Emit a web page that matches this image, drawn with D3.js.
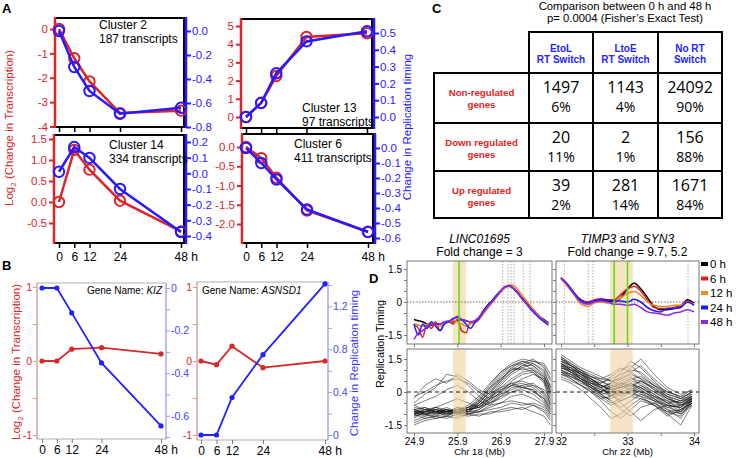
<!DOCTYPE html>
<html><head><meta charset="utf-8">
<script src="https://cdn.jsdelivr.net/npm/d3@7/dist/d3.min.js"></script>
<style>
html,body{margin:0;padding:0;background:#fff;}
svg{display:block;font-family:"Liberation Sans",Arial,Helvetica,sans-serif;}
</style></head><body>
<svg id="fig" width="738" height="458"></svg>
<script>
// ================= DATA =================
const hours = [0, 6, 12, 24, 48];
const clusterNames = ["Cluster 2", "Cluster 13", "Cluster 14", "Cluster 6"];
const clusterSizes = [187, 97, 334, 411];
const c2Transcription = [0, -1.2, -2.15, -3.45, -3.35];
const c2Replication   = [0, -0.3, -0.5, -0.69, -0.64];
const c13Transcription = [0, 0.78, 2.25, 4.4, 4.6];
const c13Replication   = [0, 0.083, 0.26, 0.45, 0.51];
const c14Transcription = [0, 1.24, 0.77, 0.03, -0.7];
const c14Replication   = [0.01, 0.168, 0.098, -0.1, -0.375];
const c6Transcription = [0, -0.29, -0.8, -1.65, -2.2];
const c6Replication   = [0, -0.1, -0.21, -0.41, -0.56];

const geneNames = ["KIZ", "ASNSD1"];
const kizTranscription = [0, 0, 0.16, 0.18, 0.095];
const kizReplication   = [0, 0, -0.117, -0.352, -0.648];
const asnsd1Transcription = [0, -0.05, 0.2, -0.09, 0];
const asnsd1Replication   = [0, 0, 0.35, 0.75, 1.41];

const switchTypes = [["EtoL", "RT Switch"], ["LtoE", "RT Switch"], ["No RT", "Switch"]];
const geneClasses = [["Non-regulated", "genes"], ["Down regulated", "genes"], ["Up regulated", "genes"]];
const geneCounts   = [[1497, 1143, 24092], [20, 2, 156], [39, 281, 1671]];
const genePercents = [[6, 4, 90], [11, 1, 88], [2, 14, 84]];

const timepoints = ["0 h", "6 h", "12 h", "24 h", "48 h"];
const chr18Mb = [24.9,25.0,25.1,25.2,25.3,25.4,25.5,25.6,25.7,25.8,25.9,26.0,26.1,26.2,26.3,
                 26.4,26.5,26.6,26.7,26.8,26.9,27.0,27.1,27.2,27.3,27.4,27.5,27.6,27.7,27.8,27.9,28.0];
const chr18RT = [
 [-0.8,-0.85,-0.9,-1.0,-1.05,-1.0,-1.0,-0.95,-0.9,-0.9,-0.85,-0.8,-0.85,-0.9,-0.9,
  -0.7,-0.4,-0.15,0.05,0.3,0.5,0.68,0.72,0.6,0.4,0.15,-0.05,-0.25,-0.45,-0.65,-0.8,-0.95],
 [-1.0,-1.2,-1.6,-1.0,-1.2,-0.9,-1.3,-1.0,-0.9,-1.0,-0.8,-1.3,-1.4,-0.9,-0.9,
  -0.75,-0.45,-0.2,0.0,0.25,0.45,0.65,0.72,0.62,0.42,0.18,-0.05,-0.3,-0.5,-0.7,-0.85,-0.95],
 [-1.0,-1.05,-1.1,-1.0,-0.95,-1.05,-1.1,-0.95,-0.9,-0.85,-0.9,-1.0,-1.1,-1.0,-0.95,
  -0.8,-0.55,-0.3,-0.05,0.2,0.45,0.65,0.78,0.75,0.55,0.3,0.05,-0.2,-0.45,-0.65,-0.85,-1.0],
 [-1.0,-1.5,-1.0,-1.2,-0.9,-1.1,-1.3,-1.0,-0.9,-0.75,-0.7,-0.8,-1.0,-1.2,-0.95,
  -0.75,-0.45,-0.15,0.05,0.3,0.52,0.7,0.74,0.62,0.4,0.15,-0.1,-0.35,-0.55,-0.75,-0.9,-1.05],
 [-1.7,-1.4,-1.3,-1.1,-1.0,-1.05,-1.0,-0.9,-0.85,-0.8,-0.65,-0.8,-0.85,-0.9,-0.85,
  -0.7,-0.45,-0.2,0.0,0.25,0.5,0.68,0.73,0.6,0.38,0.12,-0.1,-0.3,-0.5,-0.7,-0.85,-1.0]
];
const chr22Mb = [32.0,32.1,32.2,32.3,32.4,32.5,32.6,32.7,32.8,32.9,33.0,33.1,33.2,33.3,33.4,33.5,33.6,33.7,33.8,33.9,34.0];
const chr22RT = [
 [1.1,0.8,0.4,0.1,0.0,0.05,0.1,0.05,0.0,0.2,0.6,0.85,0.6,0.2,-0.2,-0.35,-0.35,-0.3,-0.2,0.1,-0.05],
 [1.1,0.75,0.35,0.05,0.0,0.1,0.15,0.1,0.1,0.35,0.6,0.72,0.5,0.1,-0.25,-0.3,-0.3,-0.25,-0.15,0.05,-0.1],
 [1.05,0.7,0.3,-0.1,-0.2,-0.05,0.0,-0.05,0.0,0.2,0.4,0.48,0.3,0.0,-0.15,-0.2,-0.2,-0.15,-0.15,0.0,-0.1],
 [1.1,0.8,0.4,0.05,-0.05,0.05,0.1,0.1,0.05,0.05,0.0,0.12,0.0,-0.25,-0.4,-0.45,-0.3,-0.3,-0.25,0.0,-0.15],
 [1.1,0.75,0.35,0.0,-0.1,0.0,0.05,0.0,-0.1,-0.1,-0.15,-0.1,-0.25,-0.45,-0.5,-0.55,-0.6,-0.5,-0.45,-0.35,-0.45]
];
const chr18EnsembleMb = [24.9,25.15,25.4,25.65,25.9,26.15,26.4,26.65,26.9,27.15,27.4,27.65,27.9,28.05];
const chr18Ensemble = [
 [-0.8,-0.9,-0.7,-0.9,-0.8,-0.7,-0.4,0.2,0.8,1.2,1.4,1.3,0.9,0.3],
 [-1.0,-0.8,-0.9,-0.8,-0.9,-0.8,-0.5,0.0,0.6,1.0,1.3,1.5,1.1,0.5],
 [-0.9,-1.1,-0.8,-1.0,-0.7,-0.9,-0.6,-0.1,0.5,0.9,1.2,1.2,0.8,0.0],
 [-0.7,-0.8,-1.0,-0.9,-0.8,-0.6,-0.2,0.4,0.9,1.3,1.5,1.4,1.2,0.6],
 [-1.1,-0.9,-0.9,-0.7,-0.9,-0.8,-0.7,-0.3,0.3,0.8,1.1,1.3,1.0,0.2],
 [-0.8,-1.0,-1.1,-0.8,-1.0,-0.9,-0.5,0.1,0.7,1.1,1.0,1.1,0.6,-0.2],
 [-1.2,-0.9,-0.8,-0.9,-0.8,-0.7,-0.3,0.3,0.9,1.2,1.3,1.0,0.5,-0.4],
 [-0.9,-0.7,-0.9,-1.0,-0.9,-0.8,-0.6,-0.2,0.4,0.9,1.2,1.4,1.3,0.8],
 [-1.0,-1.0,-0.9,-0.9,-0.7,-0.8,-0.4,0.2,0.6,1.0,1.1,0.9,0.4,-0.6],
 [-0.6,-0.8,-0.7,-0.8,-0.9,-0.7,-0.5,0.0,0.5,1.1,1.4,1.2,0.7,0.1],
 [-0.9,-0.9,-1.0,-0.8,-0.9,-1.0,-0.8,-0.4,0.0,0.3,0.4,0.2,-0.2,-0.7],
 [-1.0,-0.8,-0.8,-0.9,-1.0,-0.9,-0.9,-0.6,-0.2,0.2,0.3,0.4,0.0,-0.5],
 [-0.8,-1.0,-0.9,-1.1,-0.8,-0.8,-0.7,-0.3,0.1,0.4,0.2,0.1,-0.4,-0.9],
 [-1.1,-1.0,-0.9,-0.8,-0.9,-0.9,-0.8,-0.5,-0.1,0.1,0.3,0.0,-0.3,-0.8],
 [-0.9,-0.9,-0.8,-0.9,-0.8,-0.9,-0.6,-0.3,0.2,0.4,0.5,0.3,-0.1,-0.6],
 [-1.3,-1.1,-1.0,-0.9,-1.0,-0.8,-0.7,-0.5,-0.2,0.0,0.1,-0.1,-0.5,-1.0],
 [-0.8,-0.7,-0.9,-1.0,-0.9,-0.7,-0.6,-0.2,0.1,0.3,0.2,0.3,0.1,-0.3],
 [-1.0,-1.2,-1.1,-1.0,-1.1,-1.0,-0.9,-0.8,-0.7,-0.5,-0.6,-0.5,-0.7,-1.1],
 [-1.4,-1.2,-1.1,-1.2,-1.0,-1.1,-1.0,-1.0,-0.8,-0.7,-0.8,-0.6,-0.9,-1.3],
 [-0.9,-1.0,-1.2,-1.1,-0.9,-1.0,-0.9,-0.7,-0.5,-0.4,-0.5,-0.6,-0.8,-1.2],
 [-1.5,-1.3,-1.2,-1.1,-1.2,-1.0,-1.1,-0.9,-0.9,-0.8,-0.7,-0.9,-1.1,-1.5],
 [-0.2,0.0,0.3,0.5,0.6,0.4,0.0,-0.3,-0.1,0.3,0.6,0.8,0.6,0.0],
 [-0.5,-0.1,0.2,0.8,0.7,0.3,-0.2,-0.5,-0.3,0.0,0.2,0.1,-0.3,-0.8],
 [-0.3,0.3,0.6,0.4,0.8,0.5,0.1,-0.1,0.2,0.6,0.9,1.0,0.7,0.2],
 [-0.6,-0.4,-0.2,0.1,0.3,0.0,-0.4,-0.6,-0.5,-0.2,-0.1,-0.3,-0.6,-1.0],
 [-1.0,-0.9,-0.7,-0.5,-0.3,-0.5,-0.7,-0.4,0.0,0.5,0.8,0.9,0.5,-0.1]
];
const chr22EnsembleMb = [32.0,32.15,32.3,32.45,32.6,32.75,32.9,33.05,33.2,33.4,33.6,33.8,33.97];
const chr22Ensemble = [
 [1.5,1.2,0.9,0.6,0.3,0.2,0.4,0.6,0.5,0.2,-0.2,-0.4,-0.3],
 [1.3,1.0,0.6,0.3,0.0,-0.2,0.1,0.3,0.2,-0.1,-0.5,-0.6,-0.4],
 [1.2,1.1,0.8,0.5,0.4,0.6,0.8,1.0,0.9,0.4,0.0,-0.2,-0.1],
 [1.0,0.8,0.5,0.1,-0.3,-0.6,-0.4,-0.2,-0.3,-0.6,-0.9,-0.8,-0.5],
 [1.6,1.3,1.0,0.7,0.5,0.3,0.2,0.4,0.1,-0.3,-0.7,-0.9,-0.4],
 [0.9,0.7,0.4,0.2,0.0,0.3,0.6,0.9,1.2,0.6,0.1,-0.3,-0.2],
 [1.4,1.2,1.0,0.8,0.6,0.5,0.3,0.1,0.0,-0.2,-0.4,-0.5,-0.3],
 [1.1,0.9,0.6,0.3,-0.1,-0.4,-0.8,-1.1,-0.7,-0.5,-0.8,-1.0,-0.6],
 [0.8,0.6,0.3,0.0,-0.4,-0.9,-1.2,-0.8,-0.4,-0.6,-1.0,-0.9,-0.5],
 [1.3,1.0,0.7,0.4,0.2,0.4,0.9,1.4,1.1,0.5,-0.1,-0.3,0.0],
 [1.2,0.9,0.7,0.5,0.3,0.0,-0.2,0.1,0.3,0.0,-0.3,-0.5,-0.2],
 [1.7,1.4,1.1,0.9,0.7,0.5,0.6,0.8,0.6,0.3,0.0,-0.2,0.1],
 [1.0,0.7,0.5,0.2,-0.2,-0.5,-0.3,0.0,0.2,-0.2,-0.6,-0.7,-0.3],
 [0.6,0.4,0.1,-0.3,-0.7,-1.2,-1.0,-0.6,-0.3,-0.5,-0.9,-1.1,-0.4],
 [1.4,1.1,0.8,0.6,0.4,0.7,1.0,1.2,0.8,0.3,-0.2,-0.4,-0.2],
 [1.1,1.0,0.9,0.7,0.5,0.2,0.0,-0.1,-0.2,-0.4,-0.7,-0.6,-0.3],
 [0.9,0.8,0.5,0.3,0.1,0.0,0.3,0.5,0.4,0.0,-0.4,-0.8,-0.5],
 [1.3,1.1,0.8,0.4,0.1,-0.1,-0.5,-0.9,-1.3,-0.8,-0.6,-0.7,-0.4],
 [1.5,1.3,1.0,0.6,0.3,0.1,0.2,0.3,0.0,-0.4,-1.0,-1.5,-0.6],
 [0.7,0.5,0.3,0.1,-0.2,-0.3,-0.1,0.2,0.5,0.2,-0.3,-0.6,-0.4],
 [1.2,0.9,0.6,0.2,-0.1,0.0,0.3,0.6,0.7,0.3,-0.1,-0.3,0.0],
 [1.6,1.2,0.9,0.7,0.6,0.8,1.1,0.9,0.6,0.1,-0.3,-0.5,-0.2],
 [1.0,0.8,0.6,0.4,0.2,-0.1,-0.4,-0.2,0.1,-0.3,-0.8,-1.2,-0.5],
 [1.3,1.0,0.7,0.3,0.0,0.2,0.5,0.7,0.3,-0.1,-0.5,-0.9,-0.3],
 [0.8,0.7,0.5,0.2,-0.1,-0.4,-0.7,-0.4,-0.1,-0.3,-0.6,-0.7,-0.2],
 [1.4,1.2,0.9,0.5,0.2,0.4,0.7,1.1,1.5,0.8,0.2,-0.1,0.1],
 [1.1,0.9,0.6,0.4,0.3,0.1,-0.1,0.0,-0.2,-0.6,-1.1,-0.8,-0.4],
 [0.9,0.6,0.3,0.0,-0.3,-0.2,0.2,0.4,0.2,-0.2,-0.5,-0.4,-0.1],
 [1.2,1.0,0.8,0.6,0.3,0.1,0.4,0.3,0.5,0.1,-0.2,-0.6,-0.3],
 [1.5,1.2,0.8,0.5,0.2,-0.2,0.0,0.2,-0.1,-0.4,-0.6,-1.0,-0.5]
];
const chr18Band = [25.8, 26.1];
const chr18Green = [25.94];
const chr18Dotted = [26.95, 27.07, 27.14, 27.21, 27.42, 27.58];
const chr22Band = [32.74, 33.08];
const chr22Green = [32.8, 33.0];
const chr22Dotted = [32.05, 32.41, 32.48, 33.91];

// ================= DRAWING =================
const svg = d3.select("#fig");
const FONT = '"Liberation Sans", Arial, sans-serif';
const RED = "#d8262b", BLUE = "#2a18ff";
const fmt = p => d => (Math.abs(d) < 1e-9 ? (0).toFixed(p) : d.toFixed(p));

function label(x, y, txt, o = {}) {
  const t = svg.append("text").attr("x", x).attr("y", y).text(txt)
    .attr("font-size", o.size || 12).attr("fill", o.fill || "#000")
    .attr("text-anchor", o.anchor || "start");
  if (o.weight) t.attr("font-weight", o.weight);
  if (o.family) t.attr("font-family", o.family);
  if (o.style) t.attr("font-style", o.style);
  return t;
}
function styleAxis(g, color, size, w) {
  g.attr("font-family", FONT).attr("font-size", size);
  g.select(".domain").remove();
  g.selectAll(".tick line").attr("stroke", color).attr("stroke-width", w || 1);
  g.selectAll(".tick text").attr("fill", color);
  return g;
}
function log2Label(x, y, size, color) {
  const t = svg.append("text").attr("transform", `translate(${x},${y}) rotate(-90)`)
    .attr("text-anchor", "middle").attr("font-size", size).attr("fill", color);
  t.append("tspan").text("Log");
  t.append("tspan").text("2").attr("font-size", size * 0.7).attr("dy", 3);
  t.append("tspan").text(" (Change in Transcription)").attr("dy", -3);
}
function vLabel(x, y, txt, size, color) {
  svg.append("text").attr("transform", `translate(${x},${y}) rotate(-90)`)
    .attr("text-anchor", "middle").attr("font-size", size).attr("fill", color).text(txt);
}

// ---------- Panel A ----------
label(2, 13, "A", { size: 13, weight: "bold" });
const panelsA = [
  { i: 0, tr: c2Transcription, rt: c2Replication, x0: 55, x1: 184, y0: 18, y1: 127, xr: [59, 181],
    lDom: [-4, 0], lRng: [126.5, 29], lTicks: [0, -1, -2, -3, -4], lDec: 0,
    rDom: [-0.8, 0], rRng: [127, 31], rTicks: [0, -0.2, -0.4, -0.6, -0.8], tx: 99, ty: 29, xl: false },
  { i: 1, tr: c13Transcription, rt: c13Replication, x0: 241, x1: 372, y0: 19, y1: 128, xr: [246, 367],
    lDom: [0, 5], lRng: [117, 26], lTicks: [0, 1, 2, 3, 4, 5], lDec: 0,
    rDom: [0, 0.5], rRng: [117, 33], rTicks: [0, 0.1, 0.2, 0.3, 0.4, 0.5], tx: 302, ty: 112, xl: false },
  { i: 2, tr: c14Transcription, rt: c14Replication, x0: 54, x1: 184, y0: 135, y1: 243, xr: [59, 181],
    lDom: [-0.5, 1.5], lRng: [223, 139], lTicks: [-0.5, 0, 0.5, 1, 1.5], lDec: 1,
    rDom: [-0.4, 0.2], rRng: [236, 142], rTicks: [-0.4, -0.3, -0.2, -0.1, 0, 0.1, 0.2], tx: 109, ty: 149, xl: true },
  { i: 3, tr: c6Transcription, rt: c6Replication, x0: 242, x1: 373, y0: 134, y1: 243, xr: [246, 368],
    lDom: [-2, 0], lRng: [224, 147], lTicks: [0, -0.5, -1, -1.5, -2], lDec: 1,
    rDom: [-0.6, 0], rRng: [238, 148], rTicks: [0, -0.1, -0.2, -0.3, -0.4, -0.5, -0.6], tx: 294, ty: 148, xl: true }
];
panelsA.forEach(p => {
  const x = d3.scaleLinear().domain([0, 48]).range(p.xr);
  const yL = d3.scaleLinear().domain(p.lDom).range(p.lRng);
  const yR = d3.scaleLinear().domain(p.rDom).range(p.rRng);
  svg.append("rect").attr("x", p.x0).attr("y", p.y0).attr("width", p.x1 - p.x0).attr("height", p.y1 - p.y0)
    .attr("fill", "none").attr("stroke", "#000").attr("stroke-width", 2);
  styleAxis(svg.append("g").attr("transform", `translate(${p.x0},0)`)
    .call(d3.axisLeft(yL).tickValues(p.lTicks).tickSize(5).tickPadding(2).tickFormat(fmt(p.lDec))), RED, 11.5, 2);
  svg.append("line").attr("x1", p.x0).attr("x2", p.x0).attr("y1", p.y0 - 1).attr("y2", p.y1 + 1)
    .attr("stroke", RED).attr("stroke-width", 2.5);
  styleAxis(svg.append("g").attr("transform", `translate(${p.x1 + 2},0)`)
    .call(d3.axisRight(yR).tickValues(p.rTicks).tickSize(5).tickPadding(1).tickFormat(fmt(1))), BLUE, 11.5, 2);
  svg.append("line").attr("x1", p.x1 + 2).attr("x2", p.x1 + 2).attr("y1", p.y0 - 1).attr("y2", p.y1 + 1)
    .attr("stroke", BLUE).attr("stroke-width", 2.5);
  const bx = styleAxis(svg.append("g").attr("transform", `translate(0,${p.y1})`)
    .call(d3.axisBottom(x).tickValues(hours).tickSize(5).tickPadding(4)
      .tickFormat(d => p.xl ? String(d) : "")), "#000", 12, 1.5);
  if (p.xl) bx.selectAll(".tick text").filter(d => d === 48).text("48 h").attr("text-anchor", "start").attr("dx", -7);
  else bx.selectAll(".tick text").remove();
  const lineL = d3.line().x((d, i) => x(hours[i])).y(d => yL(d));
  const lineR = d3.line().x((d, i) => x(hours[i])).y(d => yR(d));
  svg.append("path").datum(p.tr).attr("d", lineL).attr("fill", "none").attr("stroke", RED).attr("stroke-width", 2.5);
  svg.selectAll(null).data(p.tr).enter().append("circle").attr("cx", (d, i) => x(hours[i])).attr("cy", d => yL(d))
    .attr("r", 5.2).attr("fill", "none").attr("stroke", RED).attr("stroke-width", 2);
  svg.append("path").datum(p.rt).attr("d", lineR).attr("fill", "none").attr("stroke", BLUE).attr("stroke-width", 2.5);
  svg.selectAll(null).data(p.rt).enter().append("circle").attr("cx", (d, i) => x(hours[i])).attr("cy", d => yR(d))
    .attr("r", 5.2).attr("fill", "none").attr("stroke", BLUE).attr("stroke-width", 2);
  label(p.tx, p.ty, clusterNames[p.i], { size: 12 });
  label(p.tx, p.ty + 14, clusterSizes[p.i] + " transcripts", { size: 12 });
});
log2Label(13, 128, 11.5, RED);
vLabel(411, 127, "Change in Replication timing", 11.5, BLUE);

// ---------- Panel B ----------
label(2, 270, "B", { size: 13, weight: "bold" });
const BRED = "#d42a2a", BBLUE = "#2222ff";
const panelsB = [
  { i: 0, tr: kizTranscription, rt: kizReplication, x0: 37, x1: 166, y0: 283, y1: 439, xr: [42, 161],
    rDom: [-0.7, 0], rRng: [437, 288], rTicks: [0, -0.1, -0.2, -0.3, -0.4, -0.5, -0.6, -0.7], rLab: [0, -0.2, -0.4, -0.6],
    gx: 162, anchor: "end" },
  { i: 1, tr: asnsd1Transcription, rt: asnsd1Replication, x0: 197, x1: 328, y0: 282, y1: 440, xr: [201, 325],
    rDom: [0, 1.4], rRng: [435, 285], rTicks: [0, 0.2, 0.4, 0.6, 0.8, 1.0, 1.2, 1.4], rLab: [0, 0.4, 0.8, 1.2],
    gx: 202, anchor: "start" }
];
panelsB.forEach(p => {
  const x = d3.scaleLinear().domain([0, 48]).range(p.xr);
  const yL = d3.scaleLinear().domain([-1, 1]).range([435, 287]);
  const yR = d3.scaleLinear().domain(p.rDom).range(p.rRng);
  svg.append("rect").attr("x", p.x0).attr("y", p.y0).attr("width", p.x1 - p.x0).attr("height", p.y1 - p.y0)
    .attr("fill", "none").attr("stroke", "#b0b0b0").attr("stroke-width", 1);
  svg.append("line").attr("x1", p.x0).attr("x2", p.x0).attr("y1", p.y0).attr("y2", p.y1).attr("stroke", "#e8a0a0");
  svg.append("line").attr("x1", p.x1).attr("x2", p.x1).attr("y1", p.y0).attr("y2", p.y1).attr("stroke", "#a8a8ff");
  const la = styleAxis(svg.append("g").attr("transform", `translate(${p.x0},0)`)
    .call(d3.axisLeft(yL).tickValues([-1, -0.5, 0, 0.5, 1]).tickSize(4).tickPadding(1)
      .tickFormat(d => Number.isInteger(d) ? String(d) : "")), "#e89090", 10.5);
  la.selectAll(".tick text").attr("fill", BRED);
  const ra = styleAxis(svg.append("g").attr("transform", `translate(${p.x1},0)`)
    .call(d3.axisRight(yR).tickValues(p.rTicks).tickSize(4).tickPadding(1)
      .tickFormat(d => p.rLab.some(v => Math.abs(v - d) < 1e-9) ? (Math.abs(d) < 1e-9 ? "0" : d.toFixed(1)) : "")), "#9a9aff", 10.5);
  ra.selectAll(".tick text").attr("fill", "#4444ff");
  const bx = styleAxis(svg.append("g").attr("transform", `translate(0,${p.y1})`)
    .call(d3.axisBottom(x).tickValues(hours).tickSize(4).tickPadding(2).tickFormat(d => String(d))), "#777", 12);
  bx.selectAll(".tick text").attr("fill", "#000");
  bx.selectAll(".tick text").filter(d => d === 48).text("48 h").attr("text-anchor", "start").attr("dx", -7);
  const lineL = d3.line().x((d, i) => x(hours[i])).y(d => yL(d));
  const lineR = d3.line().x((d, i) => x(hours[i])).y(d => yR(d));
  svg.append("path").datum(p.tr).attr("d", lineL).attr("fill", "none").attr("stroke", BRED).attr("stroke-width", 1.8);
  svg.selectAll(null).data(p.tr).enter().append("circle").attr("cx", (d, i) => x(hours[i])).attr("cy", d => yL(d))
    .attr("r", 2.6).attr("fill", BRED);
  svg.append("path").datum(p.rt).attr("d", lineR).attr("fill", "none").attr("stroke", BBLUE).attr("stroke-width", 1.8);
  svg.selectAll(null).data(p.rt).enter().append("circle").attr("cx", (d, i) => x(hours[i])).attr("cy", d => yR(d))
    .attr("r", 2.6).attr("fill", BBLUE);
  const g = label(p.gx, 294, "", { size: 10, anchor: p.anchor });
  g.append("tspan").text("Gene Name: ");
  g.append("tspan").text(geneNames[p.i]).attr("font-style", "italic");
});
log2Label(20, 362, 11.5, RED);
vLabel(358, 363, "Change in Replication timing", 11.5, "#3a3aff");

// ---------- Panel C ----------
label(432, 13, "C", { size: 13, weight: "bold" });
label(625, 10, "Comparison between 0 h and 48 h", { size: 11.3, anchor: "middle" });
label(625, 22, "p= 0.0004 (Fisher\u2019s Exact Test)", { size: 11.3, anchor: "middle" });
const colX = [434, 529, 593, 658, 722];
const rowY = [32, 73, 123, 171, 218];
const cell = (x0, y0, x1, y1) => svg.append("rect").attr("x", x0).attr("y", y0).attr("width", x1 - x0)
  .attr("height", y1 - y0).attr("fill", "none").attr("stroke", "#000").attr("stroke-width", 2);
switchTypes.forEach((s, c) => {
  cell(colX[c + 1], rowY[0], colX[c + 2], rowY[1]);
  const cx = (colX[c + 1] + colX[c + 2]) / 2;
  label(cx, 52, s[0], { size: 10, weight: "bold", fill: "#2424ff", anchor: "middle" });
  label(cx, 63, s[1], { size: 10, weight: "bold", fill: "#2424ff", anchor: "middle" });
});
geneClasses.forEach((r, ri) => {
  const y0 = rowY[ri + 1], y1 = rowY[ri + 2];
  cell(colX[0], y0, colX[1], y1);
  label((colX[0] + colX[1]) / 2, y0 + 23, r[0], { size: 9.7, weight: "bold", fill: "#e02424", anchor: "middle" });
  label((colX[0] + colX[1]) / 2, y0 + 35, r[1], { size: 9.7, weight: "bold", fill: "#e02424", anchor: "middle" });
  geneCounts[ri].forEach((v, c) => {
    cell(colX[c + 1], y0, colX[c + 2], y1);
    const cx = (colX[c + 1] + colX[c + 2]) / 2;
    label(cx, y0 + 20, String(v), { size: 16, anchor: "middle", family: '"Open Sans", sans-serif' });
    label(cx, y0 + 39, genePercents[ri][c] + "%", { size: 14, anchor: "middle", family: '"Open Sans", sans-serif' });
  });
});

// ---------- Panel D ----------
label(369, 283, "D", { size: 13, weight: "bold" });
const tpColors = ["#000000", "#e3201c", "#e8892a", "#1a1aff", "#8a2be2"];
const yTop = d3.scaleLinear().domain([-1.5, 1.5]).range([335, 269]);
const yBot = d3.scaleLinear().domain([-1.5, 1.5]).range([425, 359]);
const defs = svg.append("defs");
const panelsD = [
  { id: "L", x0: 407, x1: 552, dom: [24.9, 27.9], rng: [414, 544], ticks: [24.9, 25.9, 26.9, 27.9], labs: [24.9, 25.9, 26.9, 27.9],
    mb: chr18Mb, rt: chr18RT, emb: chr18EnsembleMb, ens: chr18Ensemble, band: chr18Band, green: chr18Green, dots: chr18Dotted,
    title1: ["LINC01695"], title2: "Fold change = 3", axisName: "Chr 18 (Mb)", yLabels: true },
  { id: "R", x0: 556, x1: 699, dom: [32, 34], rng: [561, 694], ticks: [32, 32.5, 33, 33.5, 34], labs: [32, 33, 34],
    mb: chr22Mb, rt: chr22RT, emb: chr22EnsembleMb, ens: chr22Ensemble, band: chr22Band, green: chr22Green, dots: chr22Dotted,
    title1: ["TIMP3", "SYN3"], title2: "Fold change = 9.7, 5.2", axisName: "Chr 22 (Mb)", yLabels: false }
];
panelsD.forEach(p => {
  const x = d3.scaleLinear().domain(p.dom).range(p.rng);
  const cx = (p.x0 + p.x1) / 2;
  const boxes = [{ y0: 261, y1: 344, y: yTop, k: "t" }, { y0: 349, y1: 433, y: yBot, k: "b" }];
  boxes.forEach(b => {
    defs.append("clipPath").attr("id", "clip" + p.id + b.k).append("rect")
      .attr("x", p.x0).attr("y", b.y0).attr("width", p.x1 - p.x0).attr("height", b.y1 - b.y0);
  });
  const gt = svg.append("g").attr("clip-path", `url(#clip${p.id}t)`);
  gt.append("rect").attr("x", x(p.band[0])).attr("width", x(p.band[1]) - x(p.band[0])).attr("y", 261).attr("height", 83)
    .attr("fill", "#f2dcae").attr("opacity", 0.75);
  p.dots.forEach(d => gt.append("line").attr("x1", x(d)).attr("x2", x(d)).attr("y1", 261).attr("y2", 344)
    .attr("stroke", "#999").attr("stroke-width", 0.8).attr("stroke-dasharray", "1.5,1.5"));
  gt.append("line").attr("x1", p.x0).attr("x2", p.x1).attr("y1", yTop(0)).attr("y2", yTop(0))
    .attr("stroke", "#444").attr("stroke-width", 0.8).attr("stroke-dasharray", "1.5,1.5");
  const lt = d3.line().x((d, i) => x(p.mb[i])).y(d => yTop(d)).curve(d3.curveMonotoneX);
  p.rt.forEach((s, k) => gt.append("path").datum(s).attr("d", lt).attr("fill", "none")
    .attr("stroke", tpColors[k]).attr("stroke-width", 1.5));
  p.green.forEach(d => gt.append("line").attr("x1", x(d)).attr("x2", x(d)).attr("y1", 261).attr("y2", 344)
    .attr("stroke", "#5fdc00").attr("stroke-width", 1.5));
  const gb = svg.append("g").attr("clip-path", `url(#clip${p.id}b)`);
  const lb = d3.line().x((d, i) => x(p.emb[i])).y(d => yBot(d));
  p.ens.forEach(s => gb.append("path").datum(s).attr("d", lb).attr("fill", "none")
    .attr("stroke", "#111").attr("stroke-width", 0.6).attr("opacity", 0.9));
  gb.append("rect").attr("x", x(p.band[0])).attr("width", x(p.band[1]) - x(p.band[0])).attr("y", 349).attr("height", 84)
    .attr("fill", "#efd49e").attr("opacity", 0.6);
  gb.append("line").attr("x1", p.x0).attr("x2", p.x1).attr("y1", yBot(0)).attr("y2", yBot(0))
    .attr("stroke", "#000").attr("stroke-width", 0.9).attr("stroke-dasharray", "4,3");
  boxes.forEach(b => {
    svg.append("rect").attr("x", p.x0).attr("y", b.y0).attr("width", p.x1 - p.x0).attr("height", b.y1 - b.y0)
      .attr("fill", "none").attr("stroke", "#777").attr("stroke-width", 1);
    const ya = styleAxis(svg.append("g").attr("transform", `translate(${p.x0},0)`)
      .call(d3.axisLeft(b.y).tickValues([-1.5, -1, -0.5, 0, 0.5, 1, 1.5]).tickSize(3).tickPadding(2)
        .tickFormat(d => p.yLabels && (d === 1.5 || d === 0 || d === -1.5) ? String(d) : "")), "#777", 10);
    ya.selectAll(".tick text").attr("fill", "#000");
    ya.selectAll(".tick text").filter(function () { return this.textContent === ""; }).remove();
    const xa = styleAxis(svg.append("g").attr("transform", `translate(0,${b.y1})`)
      .call(d3.axisBottom(x).tickValues(p.ticks).tickSize(3).tickPadding(2)
        .tickFormat(d => b.k === "b" && p.labs.includes(d) ? String(d) : "")), "#777", 10);
    xa.selectAll(".tick text").attr("fill", "#000");
    xa.selectAll(".tick text").filter(function () { return this.textContent === ""; }).remove();
  });
  const t1 = label(cx, 243, "", { size: 12, anchor: "middle" });
  t1.append("tspan").text(p.title1[0]).attr("font-style", "italic");
  if (p.title1.length > 1) {
    t1.append("tspan").text(" and ");
    t1.append("tspan").text(p.title1[1]).attr("font-style", "italic");
  }
  label(cx, 256, p.title2, { size: 12, anchor: "middle" });
  label(cx, 455, p.axisName, { size: 9.5, anchor: "middle" });
});
vLabel(384, 344, "Replication Timing", 10.8, "#000");
timepoints.forEach((t, k) => {
  const y = 264 + k * 14.5;
  svg.append("line").attr("x1", 701).attr("x2", 708).attr("y1", y).attr("y2", y)
    .attr("stroke", tpColors[k]).attr("stroke-width", 4);
  label(710, y + 4, t, { size: 11.5 });
});
</script>
</body></html>
